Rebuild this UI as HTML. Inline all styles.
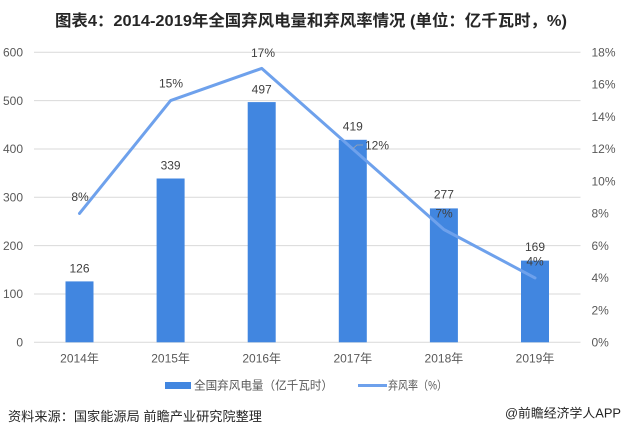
<!DOCTYPE html>
<html>
<head>
<meta charset="utf-8">
<style>
  html,body{margin:0;padding:0;background:#ffffff;}
  body{width:622px;height:436px;overflow:hidden;}
  svg{display:block;}
  text{font-family:"Liberation Sans","Noto Sans CJK SC",sans-serif;}
</style>
</head>
<body>
<svg width="622" height="436" viewBox="0 0 622 436" xmlns="http://www.w3.org/2000/svg">
  <rect x="0" y="0" width="622" height="436" fill="#ffffff"/>

  <!-- Title -->
  <text x="311" y="26" text-anchor="middle" font-size="16" font-weight="bold" fill="#262626" textLength="512" lengthAdjust="spacingAndGlyphs">图表4：2014-2019年全国弃风电量和弃风率情况 (单位：亿千瓦时，%)</text>

  <!-- Gridlines -->
  <g stroke="#d9d9d9" stroke-width="1">
    <line x1="34" y1="52.3" x2="580.5" y2="52.3"/>
    <line x1="34" y1="100.6" x2="580.5" y2="100.6"/>
    <line x1="34" y1="149" x2="580.5" y2="149"/>
    <line x1="34" y1="197.3" x2="580.5" y2="197.3"/>
    <line x1="34" y1="245.6" x2="580.5" y2="245.6"/>
    <line x1="34" y1="294" x2="580.5" y2="294"/>
    <line x1="34" y1="342.3" x2="580.5" y2="342.3"/>
  </g>

  <!-- Left axis labels -->
  <g font-size="12" fill="#595959" text-anchor="end">
    <text x="23" y="56.5">600</text>
    <text x="23" y="104.8">500</text>
    <text x="23" y="153.2">400</text>
    <text x="23" y="201.5">300</text>
    <text x="23" y="249.8">200</text>
    <text x="23" y="298.2">100</text>
    <text x="23" y="346.5">0</text>
  </g>

  <!-- Right axis labels -->
  <g font-size="12" fill="#595959" text-anchor="start">
    <text x="591.5" y="56.5">18%</text>
    <text x="591.5" y="88.7">16%</text>
    <text x="591.5" y="120.9">14%</text>
    <text x="591.5" y="153.2">12%</text>
    <text x="591.5" y="185.4">10%</text>
    <text x="591.5" y="217.6">8%</text>
    <text x="591.5" y="249.8">6%</text>
    <text x="591.5" y="282.0">4%</text>
    <text x="591.5" y="314.3">2%</text>
    <text x="591.5" y="346.5">0%</text>
  </g>

  <!-- Bars -->
  <g fill="#4186e0">
    <rect x="65.5" y="281.4" width="28" height="60.9"/>
    <rect x="156.6" y="178.5" width="28" height="163.8"/>
    <rect x="247.7" y="102.1" width="28" height="240.2"/>
    <rect x="338.8" y="139.8" width="28" height="202.5"/>
    <rect x="429.9" y="208.4" width="28" height="133.9"/>
    <rect x="521" y="260.6" width="28" height="81.7"/>
  </g>

  <!-- Bar value labels -->
  <g font-size="12" fill="#404040" text-anchor="middle">
    <text x="79.5" y="272.6">126</text>
    <text x="170.6" y="169.3">339</text>
    <text x="261.7" y="93.6">497</text>
    <text x="352.8" y="130.3">419</text>
    <text x="443.9" y="198.6">277</text>
    <text x="535" y="251">169</text>
  </g>

  <!-- Line -->
  <polyline points="79.5,213.4 170.6,100.6 261.7,68.4 352.8,149 443.9,229.5 535,277.9" fill="none" stroke="#6ea1ec" stroke-width="3" stroke-linejoin="round" stroke-linecap="round"/>

  <!-- leader line for 12% -->
  <polyline points="353,148.5 357,145 363,145" fill="none" stroke="#a6a6a6" stroke-width="0.8"/>

  <!-- Line value labels -->
  <g font-size="12" fill="#404040" text-anchor="middle">
    <text x="80" y="201">8%</text>
    <text x="171" y="87.6">15%</text>
    <text x="263" y="57">17%</text>
    <text x="377" y="149.6">12%</text>
    <text x="444" y="217.3">7%</text>
    <text x="535" y="265.3">4%</text>
  </g>

  <!-- Category labels -->
  <g font-size="12" fill="#595959" text-anchor="middle">
    <text x="79.5" y="362.3">2014年</text>
    <text x="170.6" y="362.3">2015年</text>
    <text x="261.7" y="362.3">2016年</text>
    <text x="352.8" y="362.3">2017年</text>
    <text x="443.9" y="362.3">2018年</text>
    <text x="535" y="362.3">2019年</text>
  </g>

  <!-- Legend -->
  <rect x="165" y="382" width="26" height="7" fill="#4186e0"/>
  <text x="194" y="389.5" font-size="12" fill="#595959" textLength="139" lengthAdjust="spacingAndGlyphs">全国弃风电量（亿千瓦时）</text>
  <line x1="358" y1="385.5" x2="387" y2="385.5" stroke="#6ea1ec" stroke-width="3"/>
  <text x="388" y="389.5" font-size="12" fill="#595959" textLength="59" lengthAdjust="spacingAndGlyphs">弃风率（%）</text>

  <!-- Footer -->
  <text x="8" y="421" font-size="13" fill="#262626" textLength="254" lengthAdjust="spacingAndGlyphs">资料来源：国家能源局 前瞻产业研究院整理</text>
  <text x="505" y="417.5" font-size="12.5" fill="#262626" textLength="116" lengthAdjust="spacingAndGlyphs">@前瞻经济学人APP</text>
</svg>
</body>
</html>
